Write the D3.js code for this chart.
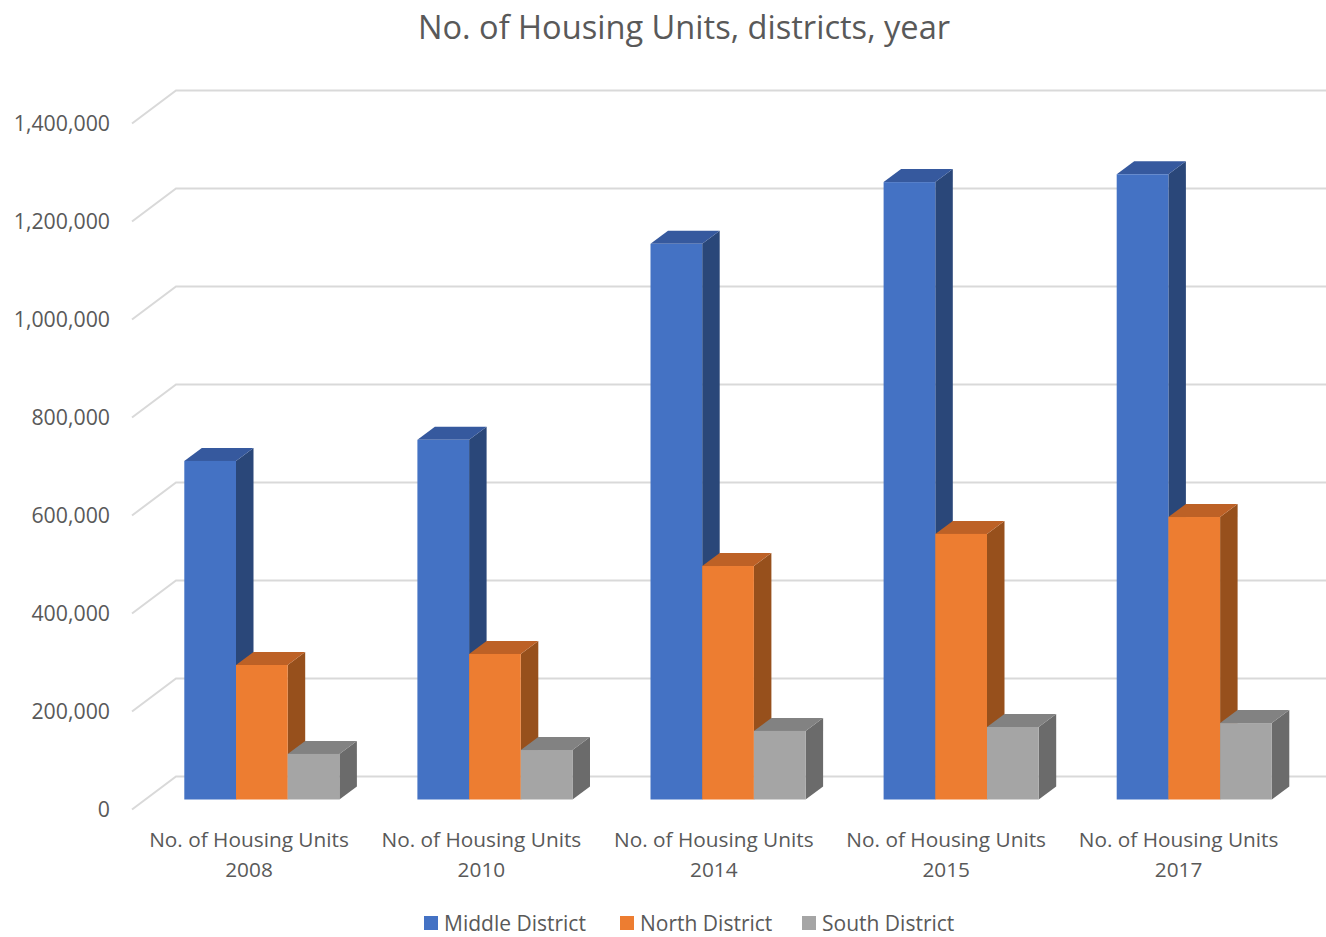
<!DOCTYPE html>
<html>
<head>
<meta charset="utf-8">
<script src="https://cdn.jsdelivr.net/npm/d3@7"></script>
<style>
  body { margin: 0; background: #fff; }
  text { font-family: "Open Sans", sans-serif; fill: #595959; }
</style>
</head>
<body>
<div class="canva"></div>
<script>
const years = ["2008", "2010", "2014", "2015", "2017"];
const seriesNames = ["Middle District", "North District", "South District"];
const middleDistrict = [691000, 734000, 1134000, 1260000, 1276000];
const northDistrict = [274500, 297000, 476500, 542000, 576500];
const southDistrict = [93000, 101000, 140000, 148000, 156000];
const yTicks = [0, 200000, 400000, 600000, 800000, 1000000, 1200000, 1400000];
const colors = ["#4472C4", "#ED7D31", "#A5A5A5"];
const topColors = ["#36599E", "#BD6126", "#828282"];
const sideColors = ["#2A4779", "#97501C", "#6B6B6B"];

const width = 1326, height = 937;

const svg = d3.select(".canva").append("svg")
    .attr("width", width)
    .attr("height", height)
    .style("display", "block");

// scales are for the front face of the bars
const y = d3.scaleLinear().domain([0, 1400000]).range([799.5, 113.5]);
const x = d3.scaleBand().domain(years).range([132, 1297.5]);
const xInner = d3.scaleBand().domain(seriesNames).range([52.3, 207.4]);
// labels sit on a slightly tighter step than the bars
const xLabel = d3.scaleBand().domain(years).range([132.8, 1294.8]);

// offset of the bar depth
const depthX = 17.5, depthY = -13;

// gridlines: floor edge then along the back wall
const grid = svg.append("g");
grid.selectAll("path")
    .data(yTicks)
    .enter()
    .append("path")
    .attr("d", d => `M132,${y(d) + 10} L176,${y(d) - 23} L1326,${y(d) - 23}`)
    .attr("fill", "none")
    .attr("stroke", "#D9D9D9")
    .attr("stroke-width", 2);

// y axis labels
const yAxis = d3.axisLeft(y)
    .tickValues(yTicks)
    .tickSize(0)
    .tickFormat(d3.format(","));

const yAxisGroup = svg.append("g")
    .attr("transform", "translate(110, 10.5)")
    .call(yAxis);
yAxisGroup.select(".domain").remove();
yAxisGroup.selectAll("text")
    .attr("x", 0)
    .attr("font-size", "21.3px")
    .style("font-family", '"Open Sans", sans-serif')
    .attr("fill", "#595959");

// bars
const seriesValues = [middleDistrict, northDistrict, southDistrict];
const bars = [];
years.forEach((year, i) => {
    seriesNames.forEach((name, s) => {
        bars.push({ year, name, s, value: seriesValues[s][i] });
    });
});

const barGroups = svg.selectAll("g.bar")
    .data(bars)
    .enter()
    .append("g")
    .attr("class", "bar");

barGroups.append("path")
    .attr("fill", d => sideColors[d.s])
    .attr("d", d => {
        const r = x(d.year) + xInner(d.name) + xInner.bandwidth();
        return `M${r},${y(0)} L${r + depthX},${y(0) + depthY} L${r + depthX},${y(d.value) + depthY} L${r},${y(d.value)} Z`;
    });

barGroups.append("path")
    .attr("fill", d => topColors[d.s])
    .attr("d", d => {
        const l = x(d.year) + xInner(d.name);
        const r = l + xInner.bandwidth();
        const t = y(d.value);
        return `M${l},${t} L${l + depthX},${t + depthY} L${r + depthX},${t + depthY} L${r},${t} Z`;
    });

barGroups.append("rect")
    .attr("x", d => x(d.year) + xInner(d.name))
    .attr("y", d => y(d.value))
    .attr("width", xInner.bandwidth())
    .attr("height", d => y(0) - y(d.value))
    .attr("fill", d => colors[d.s]);

// category labels, two lines each
const catLabels = svg.selectAll("text.cat")
    .data(years)
    .enter()
    .append("text")
    .attr("class", "cat")
    .attr("text-anchor", "middle")
    .attr("font-size", "20.8px");

catLabels.append("tspan")
    .attr("x", d => xLabel(d) + xLabel.bandwidth() / 2)
    .attr("y", 847)
    .text("No. of Housing Units");

catLabels.append("tspan")
    .attr("x", d => xLabel(d) + xLabel.bandwidth() / 2)
    .attr("y", 877)
    .text(d => d);

// title
svg.append("text")
    .attr("x", 684)
    .attr("y", 39)
    .attr("text-anchor", "middle")
    .attr("font-size", "32.6px")
    .text("No. of Housing Units, districts, year");

// legend
const legendX = d3.scaleOrdinal().domain(seriesNames).range([424, 620, 802]);
const legend = svg.selectAll("g.legend")
    .data(seriesNames)
    .enter()
    .append("g")
    .attr("class", "legend")
    .attr("transform", d => `translate(${legendX(d)}, 916)`);

legend.append("rect")
    .attr("width", 14)
    .attr("height", 14)
    .attr("fill", (d, i) => colors[i]);

legend.append("text")
    .attr("x", 20)
    .attr("y", 15)
    .attr("font-size", "21px")
    .text(d => d);
</script>
</body>
</html>
